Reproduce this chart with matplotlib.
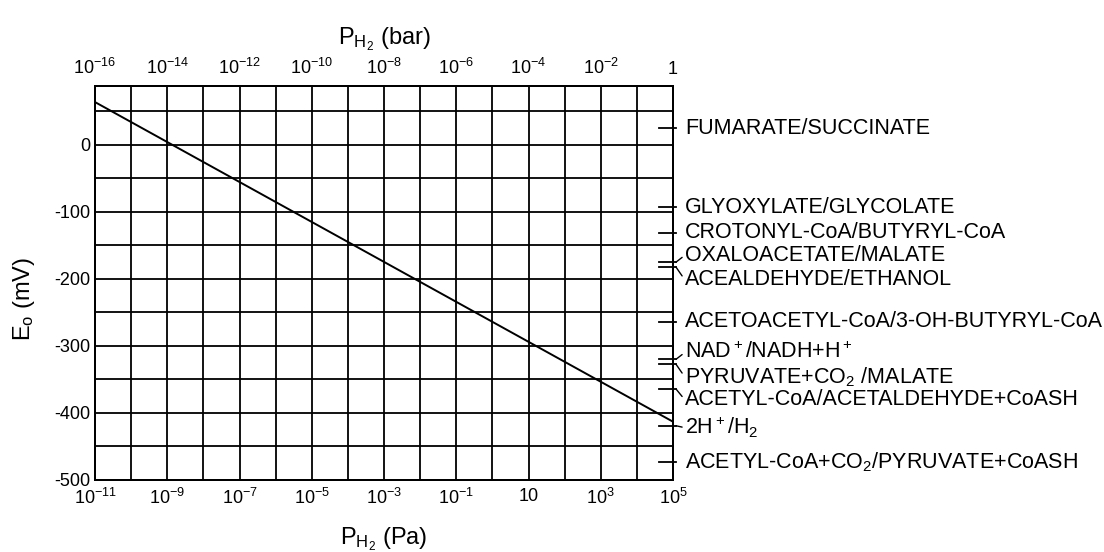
import numpy as np
import matplotlib
matplotlib.use('Agg')
import matplotlib.pyplot as plt
from matplotlib.ticker import NullFormatter, NullLocator

plt.rcParams['font.family'] = ['Liberation Sans', 'DejaVu Sans']
plt.rcParams['mathtext.fontset'] = 'custom'
plt.rcParams['mathtext.rm'] = 'Liberation Sans'
plt.rcParams['mathtext.it'] = 'Liberation Sans'
plt.rcParams['mathtext.bf'] = 'Liberation Sans:bold'

# H2 line, read at the two ends of the plot
p_h2_bar = np.array([1e-16, 1.0])
e_line = np.array([64, -413])

# couples on the right side (mV)
couples = ['FUMARATE/SUCCINATE', 'GLYOXYLATE/GLYCOLATE', 'CROTONYL-CoA/BUTYRYL-CoA',
           'OXALOACETATE/MALATE', 'ACEALDEHYDE/ETHANOL',
           'ACETOACETYL-CoA/3-OH-BUTYRYL-CoA', r'NAD$\mathregular{^+}$/NADH+H$\mathregular{^+}$',
           r'PYRUVATE+CO$\mathregular{_2}$ /MALATE', 'ACETYL-CoA/ACETALDEHYDE+CoASH',
           r'2H$\mathregular{^+}$/H$\mathregular{_2}$',
           r'ACETYL-CoA+CO$\mathregular{_2}$/PYRUVATE+CoASH']
couple_e = [25, -93, -131, -175, -182, -264, -320, -327, -364, -419, -473]
# vertical shift of each label from its tick, pixels
label_shift = [0, 0, 0, 7, -13, 0, 7, -13, -11, -2, 0]

pa_ticks = [1e-11, 1e-9, 1e-7, 1e-5, 1e-3, 1e-1, 1e1, 1e3, 1e5]
pa_labels = [r'$\mathregular{10^{-11}}$', r'$\mathregular{10^{-9}}$', r'$\mathregular{10^{-7}}$',
             r'$\mathregular{10^{-5}}$', r'$\mathregular{10^{-3}}$', r'$\mathregular{10^{-1}}$',
             '10', r'$\mathregular{10^{3}}$', r'$\mathregular{10^{5}}$']
bar_ticks = [1e-16, 1e-14, 1e-12, 1e-10, 1e-8, 1e-6, 1e-4, 1e-2, 1]
bar_labels = [r'$\mathregular{10^{-16}}$', r'$\mathregular{10^{-14}}$', r'$\mathregular{10^{-12}}$',
              r'$\mathregular{10^{-10}}$', r'$\mathregular{10^{-8}}$', r'$\mathregular{10^{-6}}$',
              r'$\mathregular{10^{-4}}$', r'$\mathregular{10^{-2}}$', '1']
e_ticks = [-500, -400, -300, -200, -100, 0]

fig = plt.figure(figsize=(11.04, 5.52), dpi=100)
ax = fig.add_axes([95/1104, 72/552, 578/1104, 394/552])

ax.plot(p_h2_bar * 1e5, e_line, color='black', lw=1.4)
ax.set_xscale('log')
ax.set_xlim(1e-11, 1e5)
ax.set_ylim(-500, 88)

ax.set_xticks(np.logspace(-11, 5, 17), minor=True)
ax.xaxis.set_minor_formatter(NullFormatter())
ax.set_xticks(pa_ticks)
ax.set_xticklabels(pa_labels)
ax.set_yticks(np.arange(-450, 51, 100), minor=True)
ax.set_yticks(e_ticks)
ax.set_yticklabels([str(v) for v in e_ticks])
ax.grid(True, which='both', color='black', lw=1.3)
ax.tick_params(which='both', length=0, labelsize=13)
ax.tick_params(axis='x', pad=6)
ax.tick_params(axis='y', pad=3)
for s in ax.spines.values():
    s.set_linewidth(1.4)

ax.set_xlabel(r'$\mathregular{P_{H_2}}$ (Pa)', fontsize=17)
ax.xaxis.set_label_coords(0.5, -0.115)
ax.set_ylabel(r'E$\mathregular{_o}$ (mV)', fontsize=17)
ax.yaxis.set_label_coords(-0.1, 0.46)

top = ax.twiny()
top.set_xscale('log')
top.set_xlim(1e-16, 1)
top.set_xticks(bar_ticks)
top.set_xticklabels(bar_labels)
top.xaxis.set_minor_locator(NullLocator())
top.tick_params(which='both', length=0, labelsize=13, pad=6)
top.set_xlabel(r'$\mathregular{P_{H_2}}$ (bar)', fontsize=17)
top.xaxis.set_label_coords(0.5, 1.105)
for s in top.spines.values():
    s.set_linewidth(1.4)

tr = ax.get_yaxis_transform()
for name, e, dy in zip(couples, couple_e, label_shift):
    ax.plot([0.976, 1.005], [e, e], color='black', lw=1.3, transform=tr, clip_on=False)
    if dy == 0:
        ax.annotate(name, xy=(1.005, e), xycoords=tr, xytext=(9, 0),
                    textcoords='offset pixels', va='center', ha='left', fontsize=15.5)
    else:
        ax.annotate(name, xy=(1.005, e), xycoords=tr, xytext=(9, dy),
                    textcoords='offset pixels', va='center', ha='left', fontsize=15.5,
                    arrowprops=dict(arrowstyle='-', color='black', lw=1.0,
                                    shrinkA=0, shrinkB=0, relpos=(0, 0.5)))

fig.savefig('out.png', dpi=100)
